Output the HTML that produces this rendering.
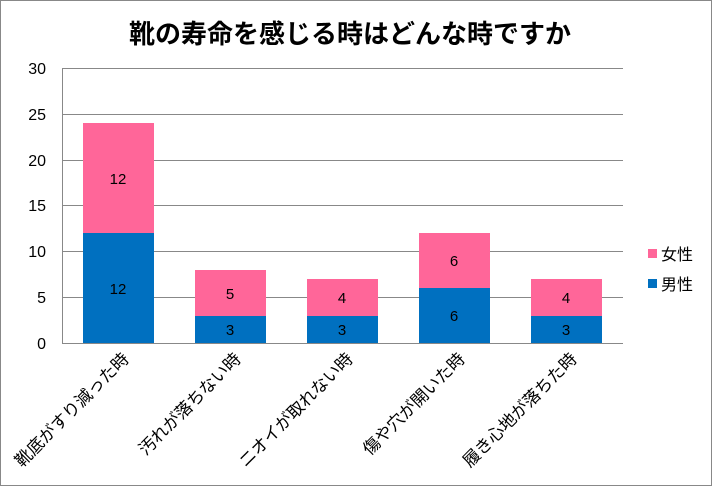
<!DOCTYPE html>
<html><head><meta charset="utf-8"><style>
body{margin:0;background:#fff}
svg{display:block;font-family:"Liberation Sans","Noto Sans CJK JP",sans-serif}
</style></head><body>
<svg width="712" height="486" viewBox="0 0 712 486">
<rect x="0.5" y="0.5" width="711" height="485" fill="#fff" stroke="#888"/>
<text x="350" y="43" text-anchor="middle" font-size="26" font-weight="bold" fill="#000">靴の寿命を感じる時はどんな時ですか</text>
<g stroke="#888" stroke-width="1">
<line x1="62" y1="68.5" x2="623" y2="68.5"/>
<line x1="62" y1="114.5" x2="623" y2="114.5"/>
<line x1="62" y1="160.5" x2="623" y2="160.5"/>
<line x1="62" y1="205.5" x2="623" y2="205.5"/>
<line x1="62" y1="251.5" x2="623" y2="251.5"/>
<line x1="62" y1="297.5" x2="623" y2="297.5"/>
<line x1="62" y1="343.5" x2="623" y2="343.5"/>
<line x1="62.5" y1="68" x2="62.5" y2="343"/>
</g>
<g font-size="16" text-anchor="end" fill="#000">
<text x="46" y="74">30</text><text x="46" y="120">25</text><text x="46" y="166">20</text>
<text x="46" y="211">15</text><text x="46" y="257">10</text><text x="46" y="303">5</text><text x="46" y="349">0</text>
</g>
<g>
<rect x="83" y="233" width="71" height="110" fill="#0070C0"/><rect x="83" y="123" width="71" height="110" fill="#FF6699"/>
<rect x="195" y="316" width="71" height="27" fill="#0070C0"/><rect x="195" y="270" width="71" height="46" fill="#FF6699"/>
<rect x="307" y="316" width="71" height="27" fill="#0070C0"/><rect x="307" y="279" width="71" height="37" fill="#FF6699"/>
<rect x="419" y="288" width="71" height="55" fill="#0070C0"/><rect x="419" y="233" width="71" height="55" fill="#FF6699"/>
<rect x="531" y="316" width="71" height="27" fill="#0070C0"/><rect x="531" y="279" width="71" height="37" fill="#FF6699"/>
</g>
<g font-size="15" text-anchor="middle" fill="#000">
<text x="118" y="294">12</text><text x="118" y="184">12</text>
<text x="230" y="335">3</text><text x="230" y="299">5</text>
<text x="342" y="335">3</text><text x="342" y="303">4</text>
<text x="454" y="321">6</text><text x="454" y="266">6</text>
<text x="566" y="335">3</text><text x="566" y="303">4</text>
</g>
<g font-size="17" text-anchor="end" fill="#000">
<text transform="translate(130,360) rotate(-45)">靴底がすり減った時</text>
<text transform="translate(242,360) rotate(-45)">汚れが落ちない時</text>
<text transform="translate(354,360) rotate(-45)">ニオイが取れない時</text>
<text transform="translate(466,360) rotate(-45)">傷や穴が開いた時</text>
<text transform="translate(578,360) rotate(-45)">履き心地が落ちた時</text>
</g>
<rect x="648" y="249" width="9" height="9" fill="#FF6699"/>
<text x="661" y="260" font-size="16">女性</text>
<rect x="648" y="279" width="9" height="9" fill="#0070C0"/>
<text x="661" y="290" font-size="16">男性</text>
</svg>
</body></html>
